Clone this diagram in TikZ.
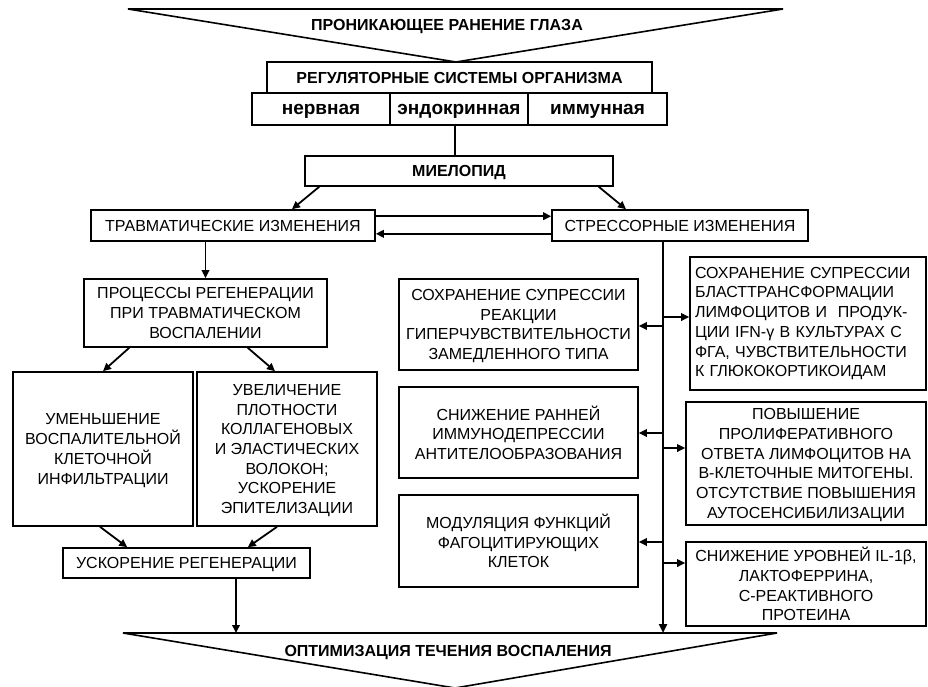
\documentclass[tikz,border=0pt]{standalone}
\usepackage{fontspec}
\setmainfont{Liberation Sans}
\usetikzlibrary{arrows.meta,calc}
\begin{document}
\begin{tikzpicture}[x=1pt,y=-1pt,
  box/.style={draw, line width=1.6pt, inner sep=0pt, align=center, text depth=0pt,
    font=\fontsize{16}{19.7}\selectfont},
  leftbox/.style={draw, line width=1.6pt, inner sep=0pt, align=left, text width=226,
    font=\fontsize{16}{19.7}\selectfont},
  boldbox/.style={box, font=\fontsize{16}{19.7}\selectfont\bfseries},
  sysbox/.style={box, font=\fontsize{19}{22}\selectfont\bfseries},
  headline/.style={inner sep=0pt, text depth=0pt, font=\fontsize{16}{19}\selectfont\bfseries},
  arr/.style={line width=1.8pt, -{Triangle[length=8pt,width=7.5pt]}},
  link/.style={line width=1.6pt},
  trunk/.style={line width=2.8pt, -{Triangle[length=9pt,width=8pt]}},
  funnel/.style={draw, line width=1.6pt, line join=miter}]
\useasboundingbox (0,0) rectangle (928,686);

% entry funnel
\draw[funnel] (128,9) -- (783,9) -- (456,62) -- cycle;
\node[headline] (title) at (447,25) {ПРОНИКАЮЩЕЕ РАНЕНИЕ ГЛАЗА};

% regulatory systems
\node[boldbox, minimum width=385, minimum height=31] (reg) at (459.5,77.5) {РЕГУЛЯТОРНЫЕ СИСТЕМЫ ОРГАНИЗМА};
\node[sysbox, minimum width=138, minimum height=32] (nerv) at (321,109) {нервная};
\node[sysbox, minimum width=138, minimum height=32] (endo) at (459,109) {эндокринная};
\node[sysbox, minimum width=139, minimum height=32] (imm) at (597.5,109) {иммунная};

\node[boldbox, minimum width=308, minimum height=30] (miel) at (459,171) {МИЕЛОПИД};

% two branches
\node[box, minimum width=284, minimum height=31] (travm) at (233,225.5) {ТРАВМАТИЧЕСКИЕ ИЗМЕНЕНИЯ};
\node[box, minimum width=256, minimum height=31] (stress) at (680,225.5) {СТРЕССОРНЫЕ ИЗМЕНЕНИЯ};

% traumatic branch
\node[box, minimum width=243, minimum height=68] (proc) at (205.5,313)
  {ПРОЦЕССЫ РЕГЕНЕРАЦИИ\\ПРИ ТРАВМАТИЧЕСКОМ\\ВОСПАЛЕНИИ};
\node[box, minimum width=180, minimum height=154] (umen) at (103,449)
  {УМЕНЬШЕНИЕ\\ВОСПАЛИТЕЛЬНОЙ\\КЛЕТОЧНОЙ\\ИНФИЛЬТРАЦИИ};
\node[box, minimum width=180, minimum height=154] (uvel) at (287,449)
  {УВЕЛИЧЕНИЕ\\ПЛОТНОСТИ\\КОЛЛАГЕНОВЫХ\\И ЭЛАСТИЧЕСКИХ\\ВОЛОКОН;\\УСКОРЕНИЕ\\ЭПИТЕЛИЗАЦИИ};
\node[box, minimum width=247, minimum height=30] (uskor) at (186.5,563) {УСКОРЕНИЕ РЕГЕНЕРАЦИИ};

% stress branch, left column
\node[box, minimum width=239, minimum height=91] (m1) at (518.5,324.5)
  {СОХРАНЕНИЕ СУПРЕССИИ\\РЕАКЦИИ\\ГИПЕРЧУВСТВИТЕЛЬНОСТИ\\ЗАМЕДЛЕННОГО ТИПА};
\node[box, minimum width=239, minimum height=91] (m2) at (518.5,432.5)
  {СНИЖЕНИЕ РАННЕЙ\\ИММУНОДЕПРЕССИИ\\АНТИТЕЛООБРАЗОВАНИЯ};
\node[box, minimum width=239, minimum height=92] (m3) at (518.5,541)
  {МОДУЛЯЦИЯ ФУНКЦИЙ\\ФАГОЦИТИРУЮЩИХ\\КЛЕТОК};

% stress branch, right column
\node[leftbox, minimum width=236, minimum height=133] (r1) at (808,323.5)
  {СОХРАНЕНИЕ СУПРЕССИИ\\БЛАСТТРАНСФОРМАЦИИ\\ЛИМФОЦИТОВ И~~ПРОДУК-\\ЦИИ IFN-γ В КУЛЬТУРАХ С\\ФГА, ЧУВСТВИТЕЛЬНОСТИ\\К ГЛЮКОКОРТИКОИДАМ};
\node[box, minimum width=240, minimum height=123] (r2) at (806,463.5)
  {ПОВЫШЕНИЕ\\ПРОЛИФЕРАТИВНОГО\\ОТВЕТА ЛИМФОЦИТОВ НА\\В-КЛЕТОЧНЫЕ МИТОГЕНЫ.\\ОТСУТСТВИЕ ПОВЫШЕНИЯ\\АУТОСЕНСИБИЛИЗАЦИИ};
\node[box, minimum width=240, minimum height=84] (r3) at (806,584)
  {СНИЖЕНИЕ УРОВНЕЙ IL-1β,\\ЛАКТОФЕРРИНА,\\С-РЕАКТИВНОГО\\ПРОТЕИНА};

% outcome funnel
\coordinate (fL) at (123,633);
\coordinate (fR) at (777,633);
\coordinate (fT) at (455,688);
\draw[funnel] (fL) -- (fR) -- (fT) -- cycle;
\node[headline] (result) at (448,651) {ОПТИМИЗАЦИЯ ТЕЧЕНИЯ ВОСПАЛЕНИЯ};

% connectors, top part
\draw[link] ([xshift=-4pt]endo.south) -- ([xshift=-4pt]endo.south |- miel.north);
\draw[arr] ($(miel.south west)+(15,0)$) -- ($(travm.north)+(59,0)$);
\draw[arr] ($(miel.south east)+(-15,0)$) -- ($(stress.north)+(-54,0)$);
\draw[arr] ($(travm.north east)+(0,7)$) coordinate (ts) -- (ts -| stress.west);
\draw[arr] ($(stress.south west)+(0,-8)$) coordinate (st) -- (st -| travm.east);

% connectors, traumatic branch
\draw[arr] (proc.north |- travm.south) -- (proc.north);
\draw[arr] ($(proc.south west)+(46,0)$) -- (umen.north);
\draw[arr] ($(proc.south east)+(-80,0)$) -- ($(uvel.north)+(-12,0)$);
\draw[arr] ($(umen.south)+(-3,0)$) -- ($(uskor.north west)+(65,0)$);
\draw[arr] ($(uvel.south)+(-10,0)$) -- ($(uskor.north east)+(-63,0)$);
\draw[arr] ($(uskor.south)+(49.5,0)$) coordinate (ud) -- (ud |- fL);

% connectors, stress branch
\coordinate (tk) at (663,241);
\draw[trunk] (tk) -- (tk |- fL);
\coordinate (b1) at (663,326);
\coordinate (b2) at (663,433);
\coordinate (b3) at (663,542);
\coordinate (c1) at (663,317);
\coordinate (c2) at (663,448);
\coordinate (c3) at (663,563);
\draw[arr] (b1) -- (b1 -| m1.east);
\draw[arr] (b2) -- (b2 -| m2.east);
\draw[arr] (b3) -- (b3 -| m3.east);
\draw[arr] (c1) -- (c1 -| r1.west);
\draw[arr] (c2) -- (c2 -| r2.west);
\draw[arr] (c3) -- (c3 -| r3.west);
\end{tikzpicture}
\end{document}
